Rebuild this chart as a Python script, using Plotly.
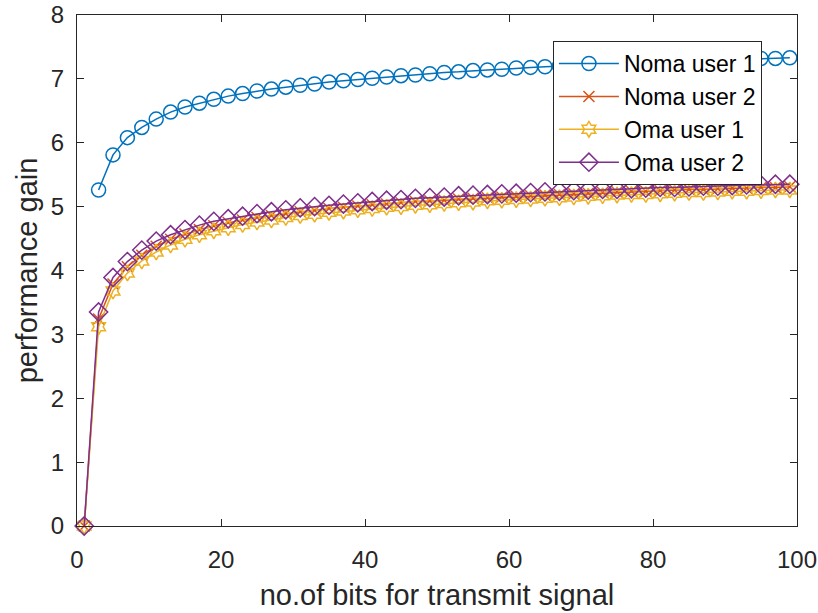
import plotly.graph_objects as go

x_bits = list(range(1, 100, 2))

noma_user1 = [None, 5.26, 5.81, 6.08, 6.24, 6.37, 6.48, 6.56, 6.62, 6.68,
              6.73, 6.77, 6.81, 6.84, 6.87, 6.90, 6.92, 6.95, 6.97, 6.99,
              7.01, 7.03, 7.05, 7.06, 7.08, 7.10, 7.11, 7.13, 7.14, 7.15,
              7.17, 7.18, 7.19, 7.20, 7.21, 7.22, 7.23, 7.24, 7.25, 7.26,
              7.27, 7.27, 7.28, 7.29, 7.30, 7.30, 7.31, 7.32, 7.32, 7.33]

noma_user2 = [0.0, 3.24, 3.79, 4.06, 4.24, 4.38, 4.49, 4.57, 4.64, 4.70,
              4.75, 4.79, 4.83, 4.86, 4.89, 4.92, 4.94, 4.97, 4.99, 5.01,
              5.03, 5.04, 5.06, 5.08, 5.09, 5.10, 5.12, 5.13, 5.14, 5.15,
              5.16, 5.17, 5.18, 5.19, 5.20, 5.21, 5.22, 5.23, 5.24, 5.24,
              5.25, 5.26, 5.27, 5.27, 5.28, 5.29, 5.29, 5.30, 5.30, 5.31]

oma_user1 = [0.0, 3.12, 3.68, 3.96, 4.15, 4.29, 4.40, 4.49, 4.56, 4.62,
             4.67, 4.72, 4.76, 4.79, 4.83, 4.86, 4.88, 4.91, 4.93, 4.95,
             4.97, 4.99, 5.00, 5.02, 5.03, 5.05, 5.06, 5.07, 5.09, 5.10,
             5.11, 5.12, 5.13, 5.14, 5.15, 5.16, 5.17, 5.18, 5.19, 5.19,
             5.20, 5.21, 5.22, 5.22, 5.23, 5.24, 5.24, 5.25, 5.26, 5.26]

oma_user2 = [0.0, 3.35, 3.89, 4.14, 4.32, 4.46, 4.56, 4.64, 4.71, 4.77,
             4.81, 4.85, 4.89, 4.92, 4.95, 4.98, 5.00, 5.02, 5.04, 5.06,
             5.08, 5.10, 5.11, 5.13, 5.14, 5.15, 5.17, 5.18, 5.19, 5.20,
             5.21, 5.22, 5.23, 5.24, 5.25, 5.26, 5.27, 5.27, 5.28, 5.29,
             5.30, 5.30, 5.31, 5.32, 5.32, 5.33, 5.34, 5.34, 5.35, 5.35]

series = [
    ("Noma user 1", noma_user1, "#0072BD", "circle-open", 14),
    ("Noma user 2", noma_user2, "#D95319", "x-thin-open", 11),
    ("Oma user 1", oma_user1, "#EDB120", "hexagram-open", 12),
    ("Oma user 2", oma_user2, "#7E2F8E", "diamond-open", 14),
]

fig = go.Figure()
for name, vals, color, sym, sz in series:
    fig.add_trace(go.Scatter(
        x=x_bits, y=vals, name=name, mode="lines+markers",
        line=dict(color=color, width=1.5),
        marker=dict(symbol=sym, size=sz, color=color,
                    line=dict(color=color, width=1.5)),
        cliponaxis=False, connectgaps=False,
    ))

axis_common = dict(
    showgrid=False, zeroline=False, showline=True, mirror="ticks",
    linecolor="#262626", linewidth=1, ticks="inside", ticklen=7,
    tickcolor="#262626", automargin=False,
    tickfont=dict(family="Liberation Sans", size=24, color="#262626"),
)

fig.update_layout(
    width=818, height=613,
    margin=dict(l=77, r=21, t=15, b=87),
    paper_bgcolor="white", plot_bgcolor="white",
    font=dict(family="Liberation Sans", color="#262626"),
    xaxis=dict(range=[0, 100], dtick=20, tick0=0, ticklabelstandoff=12,
               title=dict(text="no.of bits for transmit signal",
                          font=dict(size=29, color="#262626"), standoff=12),
               **axis_common),
    yaxis=dict(range=[0, 8], dtick=1, tick0=0, ticklabelstandoff=7,
               title=dict(text="performance gain",
                          font=dict(size=29, color="#262626"), standoff=4),
               **axis_common),
    legend=dict(x=0.661, y=0.949, xanchor="left", yanchor="top",
                bgcolor="white", bordercolor="#262626", borderwidth=1,
                font=dict(size=23, color="#000000"), itemwidth=60,
                tracegroupgap=0),
    showlegend=True,
)

fig.write_html("out.html")
